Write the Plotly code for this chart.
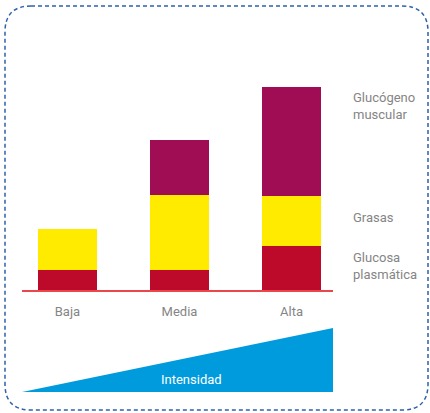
import plotly.graph_objects as go

W, H = 430, 413

categories = ["Baja", "Media", "Alta"]
glucosa = [20, 20, 44]
grasas = [41, 75, 50]
glucogeno = [0, 55, 109]

series_names = ["Glucosa<br>plasmática", "Grasas", "Glucógeno<br>muscular"]
series_colors = ["#be0a2a", "#ffeb00", "#a00d55"]
series_values = [glucosa, grasas, glucogeno]

def px(x):
    return x / W

def py(y):
    return 1 - y / H

fig = go.Figure()
for name, vals, col in zip(series_names, series_values, series_colors):
    fig.add_trace(go.Bar(x=categories, y=vals, name=name, marker=dict(color=col, line=dict(width=0)),
                         width=0.527, showlegend=False, hoverinfo="skip"))

# right-side labels placed next to the Alta stacked segments
alta_idx = 2
label_shift = [2, 4, 36]
annotations = []
cum = 0
for name, vals, shift in zip(series_names, series_values, label_shift):
    seg = vals[alta_idx]
    yv = cum + seg / 2 + shift
    cum += seg
    annotations.append(dict(text=name, x=px(351), xref="paper", y=yv, yref="y",
                            xanchor="left", yanchor="middle", showarrow=False, align="left",
                            font=dict(size=13, color="#858585", family="Roboto")))
annotations.append(dict(text="Intensidad", x=px(191), y=py(379), xref="paper", yref="paper",
                        showarrow=False, xanchor="center", yanchor="middle",
                        font=dict(size=13, color="white", family="Roboto")))

r = 26
x0, x1, y0, y1 = 5, 428, 6, 410
border = (f"M {px(x0+r)},{py(y0)} L {px(x1-r)},{py(y0)} Q {px(x1)},{py(y0)} {px(x1)},{py(y0+r)} "
          f"L {px(x1)},{py(y1-r)} Q {px(x1)},{py(y1)} {px(x1-r)},{py(y1)} "
          f"L {px(x0+r)},{py(y1)} Q {px(x0)},{py(y1)} {px(x0)},{py(y1-r)} "
          f"L {px(x0)},{py(y0+r)} Q {px(x0)},{py(y0)} {px(x0+r)},{py(y0)} Z")
tri = f"M {px(22)},{py(392)} L {px(333)},{py(328)} L {px(333)},{py(392)} Z"

fig.update_layout(
    width=W, height=H, margin=dict(l=0, r=0, t=0, b=0),
    paper_bgcolor="white", plot_bgcolor="white",
    barmode="stack", bargap=0,
    xaxis=dict(domain=[px(22), px(333)], range=[-0.405, 2.37], showline=True, linecolor="#e8474c",
               linewidth=1.5, showgrid=False, zeroline=False, ticks="", ticklabelstandoff=9,
               tickfont=dict(size=13, color="#858585", family="Roboto")),
    yaxis=dict(domain=[py(290), py(70)], range=[0, 220], visible=False, fixedrange=True),
    annotations=annotations,
    shapes=[
        dict(type="path", path=border, xref="paper", yref="paper",
             line=dict(color="#2e62a8", width=1.5, dash="4px,3px")),
        dict(type="path", path=tri, xref="paper", yref="paper",
             fillcolor="#009bdd", line=dict(width=0)),
    ],
)
fig.write_html("out.html")
